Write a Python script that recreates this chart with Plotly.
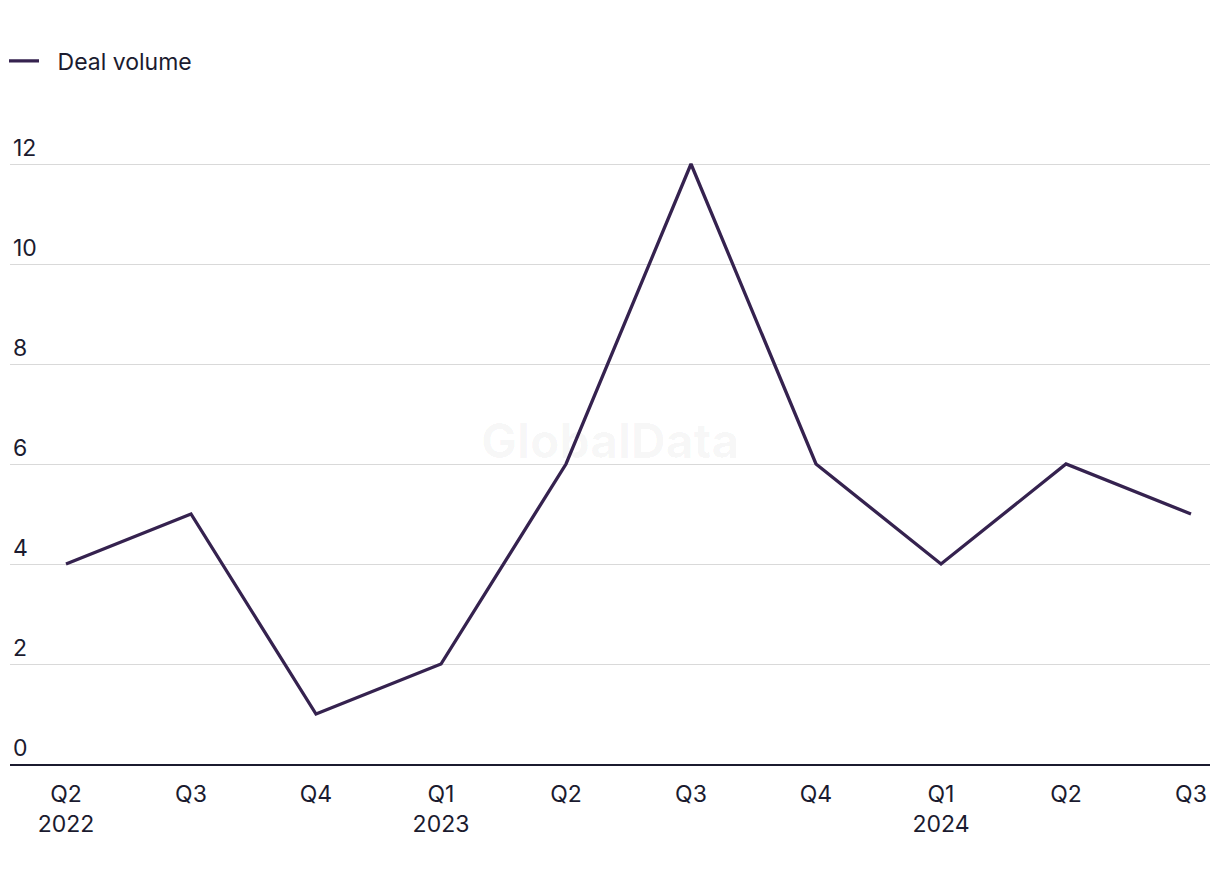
import plotly.graph_objects as go

quarters = ["Q2<br>2022", "Q3", "Q4", "Q1<br>2023", "Q2", "Q3", "Q4", "Q1<br>2024", "Q2", "Q3"]
deal_volume = [4, 5, 1, 2, 6, 12, 6, 4, 6, 5]
y_ticks = [0, 2, 4, 6, 8, 10, 12]

text_color = "#1b1b2f"
line_color = "#35224f"
font_family = "Inter, Roboto, 'Liberation Sans', sans-serif"
fs = 23

xs = list(range(len(quarters)))

fig = go.Figure()
fig.add_trace(go.Scatter(
    x=xs, y=deal_volume, mode="lines", name="\u2002\u200aDeal volume",
    line=dict(color=line_color, width=3.3),
))

fig.update_layout(
    width=1220, height=884,
    margin=dict(l=2, r=18, t=121, b=128, autoexpand=False),
    paper_bgcolor="white", plot_bgcolor="white",
    font=dict(family=font_family, size=fs, color=text_color),
    showlegend=True,
    legend=dict(x=-0.005, y=1 - 53 / 884, xref="paper", yref="container",
                xanchor="left", yanchor="middle",
                orientation="h", font=dict(size=fs, color=text_color),
                itemwidth=30, bgcolor="rgba(0,0,0,0)"),
    xaxis=dict(
        tickmode="array", tickvals=xs, ticktext=quarters,
        range=[-0.448, 9.152], showgrid=False, zeroline=False,
        showline=True, linecolor=text_color, linewidth=2,
        ticks="outside", ticklen=8, tickcolor="rgba(0,0,0,0)",
        tickfont=dict(size=fs, color=text_color),
        fixedrange=True,
    ),
    yaxis=dict(
        tickmode="array", tickvals=y_ticks, range=[0, 12.7],
        showgrid=True, gridcolor="#d9d9d9", gridwidth=1,
        zeroline=False, showline=False,
        ticklabelposition="inside top", tickfont=dict(size=fs, color=text_color),
        fixedrange=True,
    ),
    annotations=[dict(
        text="<b>GlobalData</b>", x=0.5, y=0.510, xref="paper", yref="paper",
        showarrow=False, font=dict(size=48, color="rgba(0,0,0,0.035)"),
    )],
)

fig.write_html("out.html")
